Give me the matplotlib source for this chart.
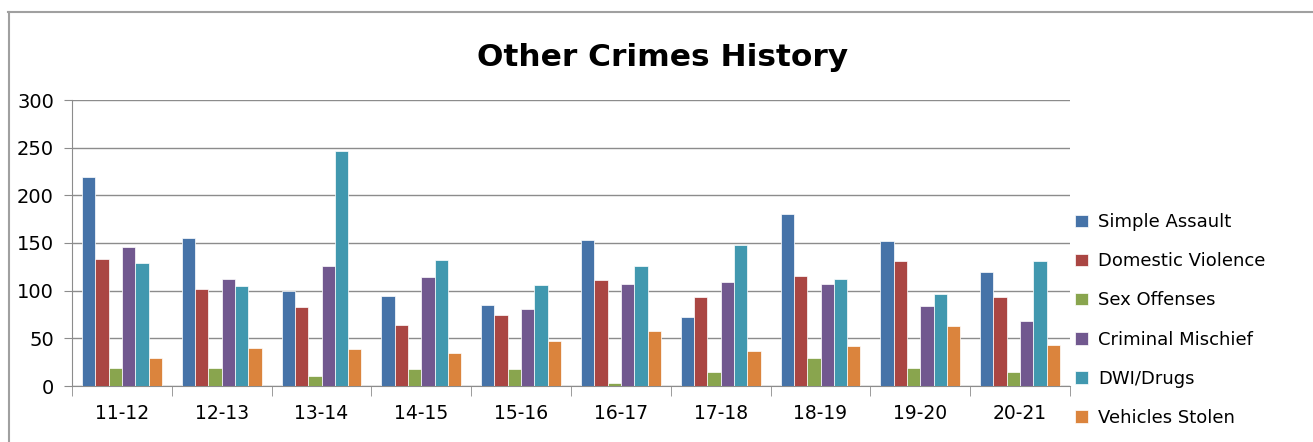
import numpy as np
import matplotlib; matplotlib.use("Agg"); import matplotlib.pyplot as plt
from matplotlib.lines import Line2D

seasons = ["11-12", "12-13", "13-14", "14-15", "15-16", "16-17", "17-18", "18-19", "19-20", "20-21"]
simple_assault = [219, 155, 100, 94, 85, 153, 72, 180, 152, 120]
domestic_violence = [133, 102, 83, 64, 75, 111, 93, 115, 131, 93]
sex_offenses = [19, 19, 11, 18, 18, 3, 15, 29, 19, 15]
criminal_mischief = [146, 112, 126, 114, 81, 107, 109, 107, 84, 68]
dwi_drugs = [129, 105, 246, 132, 106, 126, 148, 112, 96, 131]
vehicles_stolen = [29, 40, 39, 35, 47, 58, 37, 42, 63, 43]

series = [("Simple Assault", simple_assault, '#4673A8'),
          ("Domestic Violence", domestic_violence, '#AA4643'),
          ("Sex Offenses", sex_offenses, '#89A54E'),
          ("Criminal Mischief", criminal_mischief, '#71588F'),
          ("DWI/Drugs", dwi_drugs, '#4198AF'),
          ("Vehicles Stolen", vehicles_stolen, '#DB843D')]

plt.rcParams['font.family'] = ['DejaVu Sans']
W, H = 1313, 442
fig = plt.figure(figsize=(W/100, H/100), dpi=100)
fig.patch.set_facecolor('white')
# outer chart frame (cut off at right and bottom)
fig.add_artist(Line2D([8/W, 1], [1-12/H, 1-12/H], color='#a0a0a0', lw=1.5, transform=fig.transFigure))
fig.add_artist(Line2D([9/W, 9/W], [0, 1-12/H], color='#a0a0a0', lw=1.5, transform=fig.transFigure))

ax = fig.add_axes([72/W, 1-386/H, (1070-72)/W, (386-100)/H])
x = np.arange(len(seasons))
bw = 0.8/6
for i, (name, vals, col) in enumerate(series):
    ax.bar(x - 0.4 + bw*(i+0.5), vals, width=bw, color=col, ec='white', lw=0.5, label=name, zorder=3)

ax.set_xlim(-0.5, len(seasons)-0.5)
ax.set_ylim(0, 300)
ax.set_yticks(range(0, 301, 50))
ax.yaxis.grid(True, color='#8c8c8c', lw=1)
ax.set_axisbelow(True)
for s in ['top', 'right']:
    ax.spines[s].set_visible(False)
ax.spines['left'].set_color('#8c8c8c')
ax.spines['bottom'].set_color('#8c8c8c')
ax.set_xticks(x)
ax.set_xticklabels(seasons, fontsize=13.5)
ax.tick_params(axis='x', length=0, pad=13)
ax.set_xticks(np.arange(-0.5, len(seasons)), minor=True)
ax.tick_params(axis='x', which='minor', length=7, color='#8c8c8c')
ax.tick_params(axis='y', length=6, color='#8c8c8c', labelsize=14, pad=7)

fig.text(663/W, 1-58/H, "Other Crimes History", ha='center', va='center', fontsize=22.5, weight='bold')
ax.legend(loc='center left', bbox_to_anchor=(1059/W, 1-320/H), bbox_transform=fig.transFigure,
          frameon=False, fontsize=13, handlelength=0.7, handleheight=0.7, labelspacing=1.17, handletextpad=0.55)

fig.savefig("out.png", dpi=100, facecolor='white')
